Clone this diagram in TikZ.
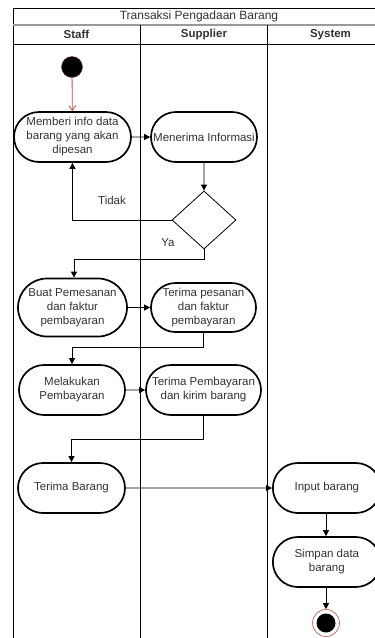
\documentclass[tikz,border=0pt]{standalone}
\usepackage{fontspec}
\setmainfont{Liberation Sans}
\usetikzlibrary{shapes.misc,shapes.geometric,arrows.meta}
\definecolor{txt}{HTML}{333333}
\definecolor{redc}{HTML}{B85450}
\begin{document}
\begin{tikzpicture}[x=1pt,y=-1pt,
  act/.style={rounded rectangle, draw=black, line width=1.7pt, text=txt, align=center,
    font=\fontsize{11.5}{14}\selectfont, inner sep=1pt},
  flow/.style={draw=black, line width=0.8pt, -{Triangle[length=6pt,width=6pt]}},
  lbl/.style={text=txt, font=\fontsize{11.5}{14}\selectfont},
  lane/.style={draw=black, line width=0.8pt}]
\useasboundingbox (0,0) rectangle (375,638);
\fill[white] (0,0) rectangle (375,638);
\begin{scope}
\clip (0,0) rectangle (375,638);
% frame
\draw[lane] (13,8) -- (394,8);
\draw[lane] (13,8) -- (13,640);
\draw[draw=gray!80, line width=1.6pt] (13,25) -- (394,25);
\draw[lane] (13,44) -- (394,44);
\draw[lane] (140,25) -- (140,640);
\draw[lane] (267,25) -- (267,640);
\node[lbl, font=\fontsize{12}{14}\selectfont] (title) at (199,16.5) {Transaksi Pengadaan Barang};
\node[lbl,font=\fontsize{11.5}{14}\selectfont\bfseries] (h1) at (76.5,34.5) {Staff};
\node[lbl,font=\fontsize{11.5}{14}\selectfont\bfseries] (h2) at (204,34.5) {Supplier};
\node[lbl,font=\fontsize{11.5}{14}\selectfont\bfseries] (h3) at (330.5,34.5) {System};
\end{scope}
% start
\node[circle, fill=black, draw=redc!60!black, line width=0.4pt, minimum size=21pt, inner sep=0pt] (start) at (72,67) {};
% activities
\node[act, minimum width=119pt, minimum height=50pt] (a1) at (72.5,137) {Memberi info data\\barang yang akan\\dipesan};
\node[act, minimum width=108pt, minimum height=50pt] (a2) at (204,137) {Menerima Informasi};
\node[diamond, draw=black, line width=0.8pt, minimum width=64pt, minimum height=58pt, inner sep=0pt] (d) at (204,220) {};
\node[act, minimum width=111pt, minimum height=58pt] (a3) at (72.5,307.5) {Buat Pemesanan\\dan faktur\\pembayaran};
\node[act, minimum width=107pt, minimum height=49pt] (a4) at (203.5,307.5) {Terima pesanan\\dan faktur\\pembayaran};
\node[act, minimum width=108pt, minimum height=50pt] (a5) at (72,390) {Melakukan\\Pembayaran};
\node[act, minimum width=117pt, minimum height=50pt] (a6) at (203.5,390) {Terima Pembayaran\\dan kirim barang};
\node[act, minimum width=109pt, minimum height=50pt] (a7) at (71.5,488) {Terima Barang};
\node[act, minimum width=110pt, minimum height=50pt, anchor=west] (a8) at (272,488) {Input barang};
\node[act, minimum width=110pt, minimum height=50pt, anchor=west] (a9) at (272,562) {Simpan data\\barang};
% end
\node[circle, draw=redc, line width=0.6pt, minimum size=27pt, inner sep=0pt] (endo) at (326,623) {};
\node[circle, fill=black, minimum size=19pt, inner sep=0pt] (endi) at (endo) {};
% connectors
\draw[draw=redc, line width=0.8pt, -{Straight Barb[length=5pt,width=7pt]}] (start) -- (a1);
\draw[flow] (a1) -- (a2);
\draw[flow] (a2) -- (d);
\draw[flow] (d.west) -| (a1.south);
\node[lbl] (tidak) at (112,200) {Tidak};
\coordinate (y1) at (204,259);
\coordinate (y2) at (74,259);
\draw[flow] (d.south) -- (y1) -- (y2) -- (a3.north -| y2);
\node[lbl] (ya) at (168,243) {Ya};
\draw[flow] (a3) -- (a4);
\coordinate (p1) at (203.5,347);
\coordinate (p2) at (72,347);
\draw[flow] (a4.south) -- (p1) -- (p2) -- (a5.north);
\draw[flow] (a5) -- (a6);
\coordinate (q1) at (203.5,439);
\coordinate (q2) at (71.5,439);
\draw[flow] (a6.south) -- (q1) -- (q2) -- (a7.north);
\draw[flow] (a7) -- (a8);
\draw[flow] (a8.south -| endo) -- (a9.north -| endo);
\draw[flow] (a9.south -| endo) -- (endo);
\end{tikzpicture}
\end{document}
